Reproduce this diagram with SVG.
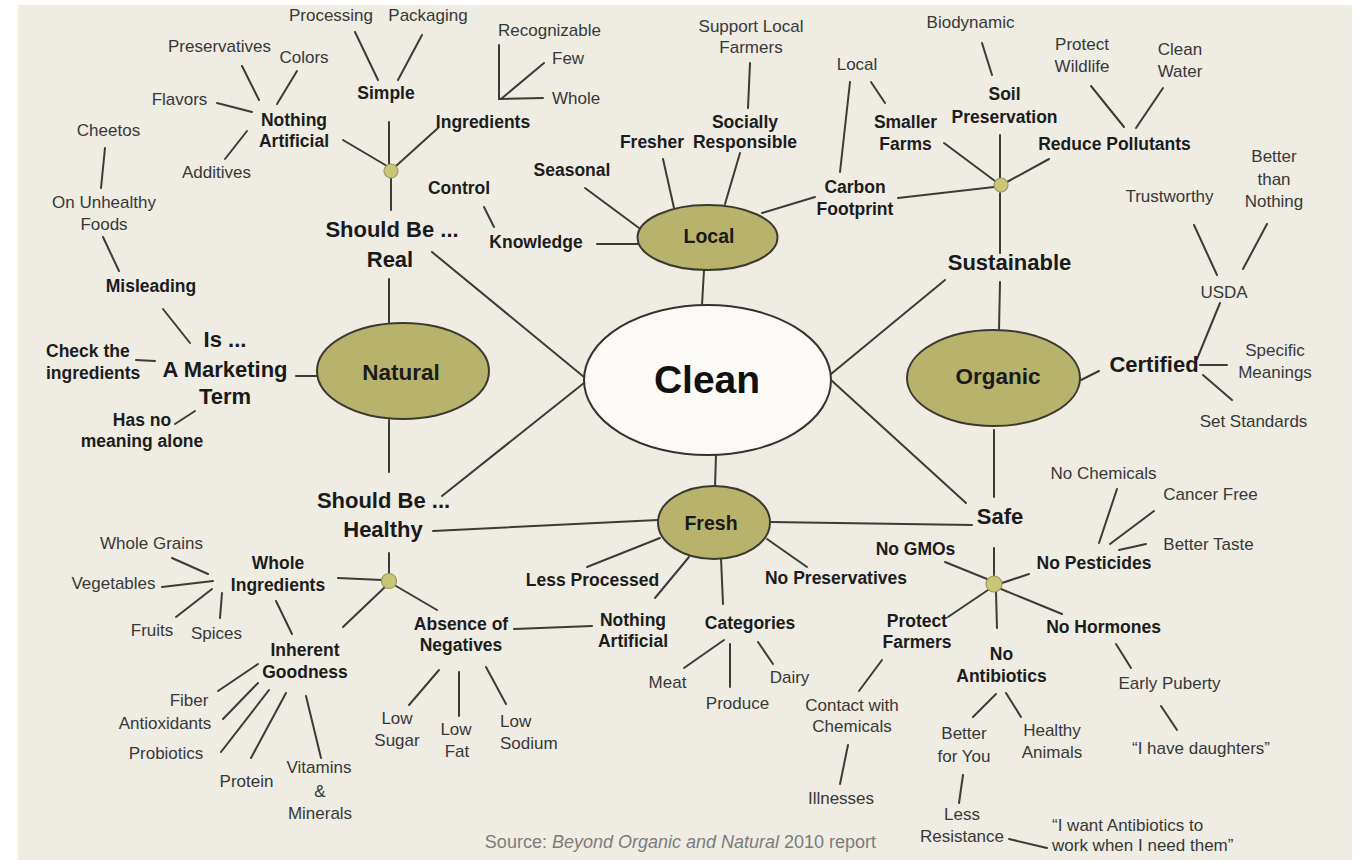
<svg xmlns="http://www.w3.org/2000/svg" width="1356" height="860" viewBox="0 0 1356 860">
<style>
text{font-family:"Liberation Sans",Arial,sans-serif;text-anchor:middle}
.r{font-size:17px;fill:#383838}
.b{font-size:17.5px;font-weight:bold;fill:#1c1c1c}
.L{font-size:22px;font-weight:bold;fill:#1a1a1a}
.E{font-size:22.5px;font-weight:bold;fill:#1a1a1a}
.e{font-size:19.5px;font-weight:bold;fill:#1a1a1a}
.st{text-anchor:start}
.olive{fill:#b7b36d;stroke:#3a3a2e;stroke-width:2}
.hub{fill:#c9c777;stroke:#9c9a5c;stroke-width:1.2}
#connectors line,#connectors polyline{stroke:#3b3b3b;stroke-width:2;fill:none;stroke-linecap:round}
</style>
<rect x="0" y="0" width="1356" height="860" fill="#ffffff"/>
<rect x="18" y="5" width="1334" height="855" fill="#eeece3"/>

<g id="connectors">
<line x1="432" y1="252" x2="584" y2="377"/>
<line x1="442" y1="496" x2="584" y2="383"/>
<line x1="704" y1="270" x2="702" y2="305"/>
<line x1="716" y1="455" x2="715" y2="487"/>
<line x1="945" y1="280" x2="831" y2="374"/>
<line x1="831" y1="380" x2="966" y2="503"/>
<line x1="355" y1="32" x2="378" y2="80"/>
<line x1="422" y1="35" x2="398" y2="80"/>
<line x1="242" y1="66" x2="259" y2="100"/>
<line x1="297" y1="71" x2="277" y2="104"/>
<line x1="217" y1="103" x2="252" y2="112"/>
<line x1="247" y1="131" x2="225" y2="159"/>
<line x1="343" y1="140" x2="387" y2="166"/>
<line x1="389" y1="122" x2="389" y2="167"/>
<line x1="438" y1="128" x2="396" y2="166"/>
<line x1="391" y1="177" x2="391" y2="210"/>
<polyline points="499,45 499,99 543,98"/>
<line x1="501" y1="99" x2="544" y2="63"/>
<line x1="389" y1="279" x2="389" y2="323"/>
<line x1="105" y1="148" x2="101" y2="188"/>
<line x1="103" y1="237" x2="119" y2="271"/>
<line x1="163" y1="309" x2="190" y2="343"/>
<line x1="136" y1="360" x2="155" y2="361"/>
<line x1="296" y1="376" x2="317" y2="376"/>
<line x1="175" y1="424" x2="195" y2="411"/>
<line x1="389" y1="420" x2="389" y2="472"/>
<line x1="750" y1="63" x2="748" y2="108"/>
<line x1="484" y1="207" x2="494" y2="227"/>
<line x1="597" y1="244" x2="638" y2="244"/>
<line x1="585" y1="188" x2="639" y2="228"/>
<line x1="663" y1="159" x2="674" y2="208"/>
<line x1="740" y1="153" x2="725" y2="204"/>
<line x1="815" y1="197" x2="762" y2="213"/>
<line x1="850" y1="82" x2="840" y2="172"/>
<line x1="871" y1="82" x2="885" y2="103"/>
<line x1="898" y1="198" x2="994" y2="187"/>
<line x1="982" y1="43" x2="992" y2="75"/>
<line x1="944" y1="143" x2="995" y2="181"/>
<line x1="1000" y1="135" x2="1000" y2="178"/>
<line x1="1049" y1="159" x2="1007" y2="182"/>
<line x1="1091" y1="86" x2="1124" y2="127"/>
<line x1="1163" y1="88" x2="1136" y2="128"/>
<line x1="1000" y1="193" x2="1000" y2="253"/>
<line x1="1000" y1="282" x2="999" y2="330"/>
<line x1="1194" y1="225" x2="1217" y2="275"/>
<line x1="1267" y1="224" x2="1243" y2="269"/>
<line x1="1220" y1="303" x2="1197" y2="359"/>
<line x1="1081" y1="380" x2="1099" y2="371"/>
<line x1="1200" y1="365" x2="1227" y2="365"/>
<line x1="1203" y1="375" x2="1232" y2="400"/>
<line x1="994" y1="430" x2="994" y2="497"/>
<line x1="770" y1="522" x2="972" y2="525"/>
<line x1="1117" y1="489" x2="1099" y2="543"/>
<line x1="1154" y1="511" x2="1110" y2="544"/>
<line x1="1146" y1="544" x2="1119" y2="550"/>
<line x1="994" y1="548" x2="994" y2="577"/>
<line x1="945" y1="562" x2="987" y2="579"/>
<line x1="1029" y1="574" x2="1002" y2="583"/>
<line x1="988" y1="590" x2="948" y2="617"/>
<line x1="996" y1="592" x2="997" y2="628"/>
<line x1="1001" y1="589" x2="1062" y2="614"/>
<line x1="996" y1="694" x2="973" y2="717"/>
<line x1="1006" y1="693" x2="1021" y2="717"/>
<line x1="963" y1="775" x2="959" y2="803"/>
<line x1="1009" y1="839" x2="1047" y2="848"/>
<line x1="1116" y1="644" x2="1131" y2="668"/>
<line x1="1161" y1="706" x2="1177" y2="730"/>
<line x1="882" y1="660" x2="859" y2="691"/>
<line x1="848" y1="745" x2="840" y2="784"/>
<line x1="660" y1="538" x2="587" y2="567"/>
<line x1="689" y1="557" x2="655" y2="598"/>
<line x1="721" y1="558" x2="723" y2="604"/>
<line x1="767" y1="539" x2="807" y2="567"/>
<line x1="592" y1="626" x2="514" y2="629"/>
<line x1="724" y1="640" x2="684" y2="668"/>
<line x1="730" y1="644" x2="730" y2="687"/>
<line x1="758" y1="642" x2="773" y2="664"/>
<line x1="433" y1="531" x2="658" y2="520"/>
<line x1="389" y1="553" x2="389" y2="574"/>
<line x1="338" y1="578" x2="382" y2="580"/>
<line x1="385" y1="587" x2="343" y2="627"/>
<line x1="396" y1="586" x2="437" y2="610"/>
<line x1="172" y1="558" x2="208" y2="574"/>
<line x1="162" y1="587" x2="213" y2="581"/>
<line x1="176" y1="617" x2="212" y2="589"/>
<line x1="222" y1="593" x2="220" y2="618"/>
<line x1="276" y1="601" x2="292" y2="634"/>
<line x1="258" y1="664" x2="218" y2="691"/>
<line x1="258" y1="683" x2="223" y2="719"/>
<line x1="269" y1="690" x2="221" y2="752"/>
<line x1="286" y1="693" x2="251" y2="758"/>
<line x1="306" y1="696" x2="321" y2="758"/>
<line x1="439" y1="670" x2="409" y2="705"/>
<line x1="459" y1="672" x2="459" y2="716"/>
<line x1="486" y1="667" x2="506" y2="704"/>
</g>

<g id="clean"><ellipse cx="707.5" cy="380" rx="123.5" ry="75" fill="#fbfaf6" stroke="#333" stroke-width="2"/><text x="707" y="393" style="font-size:39px;font-weight:bold;fill:#111">Clean</text></g>
<g id="local"><ellipse class="olive" cx="707.5" cy="237.5" rx="70" ry="32.5"/><text class="e" x="709" y="243">Local</text></g>
<g id="natural"><ellipse class="olive" cx="403" cy="371" rx="86" ry="48"/><text class="E" x="401" y="380">Natural</text></g>
<g id="organic"><ellipse class="olive" cx="993.5" cy="378" rx="86.5" ry="48"/><text class="E" x="998" y="384">Organic</text></g>
<g id="fresh"><ellipse class="olive" cx="714" cy="522.5" rx="56" ry="36.5"/><text class="e" x="711" y="530">Fresh</text></g>

<g id="hub-real"><circle class="hub" cx="391" cy="171" r="7"/></g>
<g id="hub-sustainable"><circle class="hub" cx="1001" cy="185" r="7"/></g>
<g id="hub-healthy"><circle class="hub" cx="389" cy="581" r="7.5"/></g>
<g id="hub-safe"><circle class="hub" cx="994" cy="584" r="8"/></g>

<g id="real"><text class="L" x="392" y="237">Should Be ...</text><text class="L" x="390" y="267">Real</text></g>
<g id="simple"><text class="b" x="386" y="99">Simple</text></g>
<g id="processing"><text class="r" x="331" y="21">Processing</text></g>
<g id="packaging"><text class="r" x="428" y="21">Packaging</text></g>
<g id="nothing-artificial-1"><text class="b" x="294" y="126">Nothing</text><text class="b" x="294" y="147">Artificial</text></g>
<g id="preservatives"><text class="r" x="219.5" y="52">Preservatives</text></g>
<g id="colors"><text class="r" x="304" y="63">Colors</text></g>
<g id="flavors"><text class="r" x="179.5" y="105">Flavors</text></g>
<g id="additives"><text class="r" x="216.5" y="178">Additives</text></g>
<g id="ingredients"><text class="b" x="483" y="128">Ingredients</text></g>
<g id="recognizable"><text class="r" x="549.5" y="36">Recognizable</text></g>
<g id="few"><text class="r st" x="552" y="64">Few</text></g>
<g id="whole"><text class="r st" x="552" y="104">Whole</text></g>

<g id="cheetos"><text class="r" x="108.5" y="136">Cheetos</text></g>
<g id="on-unhealthy"><text class="r" x="104" y="208">On Unhealthy</text><text class="r" x="104" y="230">Foods</text></g>
<g id="misleading"><text class="b" x="151" y="292">Misleading</text></g>
<g id="marketing"><text class="L" x="225" y="347">Is ...</text><text class="L" x="225" y="377">A Marketing</text><text class="L" x="225" y="404">Term</text></g>
<g id="check"><text class="b st" x="46" y="357">Check the</text><text class="b st" x="46" y="379">ingredients</text></g>
<g id="no-meaning"><text class="b" x="142" y="426">Has no</text><text class="b" x="142" y="447">meaning alone</text></g>

<g id="support-local"><text class="r" x="751" y="32">Support Local</text><text class="r" x="751" y="53">Farmers</text></g>
<g id="socially"><text class="b" x="745" y="128">Socially</text><text class="b" x="745" y="148">Responsible</text></g>
<g id="fresher"><text class="b" x="652" y="148">Fresher</text></g>
<g id="seasonal"><text class="b" x="572" y="176">Seasonal</text></g>
<g id="control"><text class="b" x="459" y="194">Control</text></g>
<g id="knowledge"><text class="b" x="536" y="248">Knowledge</text></g>
<g id="carbon"><text class="b" x="855" y="193">Carbon</text><text class="b" x="855" y="215">Footprint</text></g>
<g id="local-small"><text class="r" x="857" y="70">Local</text></g>
<g id="smaller-farms"><text class="b" x="905.5" y="128">Smaller</text><text class="b" x="905.5" y="150">Farms</text></g>

<g id="biodynamic"><text class="r" x="970.5" y="28">Biodynamic</text></g>
<g id="soil"><text class="b" x="1004.5" y="100">Soil</text><text class="b" x="1004.5" y="123">Preservation</text></g>
<g id="reduce-pollutants"><text class="b" x="1114.5" y="150">Reduce Pollutants</text></g>
<g id="protect-wildlife"><text class="r" x="1082" y="50">Protect</text><text class="r" x="1082" y="72">Wildlife</text></g>
<g id="clean-water"><text class="r" x="1180" y="55">Clean</text><text class="r" x="1180" y="77">Water</text></g>
<g id="sustainable"><text class="L" x="1009.5" y="270">Sustainable</text></g>
<g id="trustworthy"><text class="r" x="1169.5" y="202">Trustworthy</text></g>
<g id="better-than"><text class="r" x="1274" y="162">Better</text><text class="r" x="1274" y="185">than</text><text class="r" x="1274" y="207">Nothing</text></g>
<g id="usda"><text class="r" x="1224" y="298">USDA</text></g>
<g id="certified"><text class="L" x="1154" y="372">Certified</text></g>
<g id="specific"><text class="r" x="1275" y="356">Specific</text><text class="r" x="1275" y="378">Meanings</text></g>
<g id="set-standards"><text class="r" x="1253.5" y="427">Set Standards</text></g>

<g id="safe"><text class="L" x="1000" y="524">Safe</text></g>
<g id="no-chemicals"><text class="r" x="1103.5" y="479">No Chemicals</text></g>
<g id="cancer-free"><text class="r" x="1210.5" y="500">Cancer Free</text></g>
<g id="better-taste"><text class="r" x="1208.5" y="550">Better Taste</text></g>
<g id="no-pesticides"><text class="b" x="1094" y="569">No Pesticides</text></g>
<g id="no-gmos"><text class="b" x="915.5" y="555">No GMOs</text></g>
<g id="protect-farmers"><text class="b" x="917" y="627">Protect</text><text class="b" x="917" y="648">Farmers</text></g>
<g id="no-hormones"><text class="b" x="1103.5" y="633">No Hormones</text></g>
<g id="no-antibiotics"><text class="b" x="1001.5" y="660">No</text><text class="b" x="1001.5" y="682">Antibiotics</text></g>
<g id="better-for-you"><text class="r" x="964" y="739">Better</text><text class="r" x="964" y="762">for You</text></g>
<g id="healthy-animals"><text class="r" x="1052" y="736">Healthy</text><text class="r" x="1052" y="758">Animals</text></g>
<g id="less-resistance"><text class="r" x="962" y="820">Less</text><text class="r" x="962" y="842">Resistance</text></g>
<g id="quote-antibiotics"><text class="r st" x="1052" y="831">“I want Antibiotics to</text><text class="r st" x="1052" y="851">work when I need them”</text></g>
<g id="early-puberty"><text class="r" x="1169.5" y="689">Early Puberty</text></g>
<g id="quote-daughters"><text class="r" x="1201" y="754">“I have daughters”</text></g>
<g id="contact"><text class="r" x="852" y="711">Contact with</text><text class="r" x="852" y="732">Chemicals</text></g>
<g id="illnesses"><text class="r" x="841" y="804">Illnesses</text></g>

<g id="less-processed"><text class="b" x="592.5" y="586">Less Processed</text></g>
<g id="no-preservatives"><text class="b" x="836" y="584">No Preservatives</text></g>
<g id="nothing-artificial-2"><text class="b" x="633" y="626">Nothing</text><text class="b" x="633" y="647">Artificial</text></g>
<g id="categories"><text class="b" x="750" y="629">Categories</text></g>
<g id="meat"><text class="r" x="667.5" y="688">Meat</text></g>
<g id="produce"><text class="r" x="737.5" y="709">Produce</text></g>
<g id="dairy"><text class="r" x="789.5" y="683">Dairy</text></g>

<g id="healthy"><text class="L" x="383.5" y="508">Should Be ...</text><text class="L" x="383" y="537">Healthy</text></g>
<g id="whole-ingredients"><text class="b" x="278" y="569">Whole</text><text class="b" x="278" y="591">Ingredients</text></g>
<g id="whole-grains"><text class="r" x="151.5" y="549">Whole Grains</text></g>
<g id="vegetables"><text class="r" x="113.5" y="589">Vegetables</text></g>
<g id="fruits"><text class="r" x="152" y="636">Fruits</text></g>
<g id="spices"><text class="r" x="216.5" y="639">Spices</text></g>
<g id="inherent"><text class="b" x="305" y="656">Inherent</text><text class="b" x="305" y="678">Goodness</text></g>
<g id="fiber"><text class="r" x="189" y="706">Fiber</text></g>
<g id="antioxidants"><text class="r" x="165" y="729">Antioxidants</text></g>
<g id="probiotics"><text class="r" x="166" y="759">Probiotics</text></g>
<g id="protein"><text class="r" x="246.5" y="787">Protein</text></g>
<g id="vitamins"><text class="r" x="319" y="773">Vitamins</text><text class="r" x="320" y="797">&amp;</text><text class="r" x="320" y="819">Minerals</text></g>
<g id="absence"><text class="b" x="461" y="630">Absence of</text><text class="b" x="461" y="651">Negatives</text></g>
<g id="low-sugar"><text class="r" x="397" y="724">Low</text><text class="r" x="397" y="746">Sugar</text></g>
<g id="low-fat"><text class="r" x="456" y="735">Low</text><text class="r" x="457" y="757">Fat</text></g>
<g id="low-sodium"><text class="r st" x="500" y="727">Low</text><text class="r st" x="500" y="749">Sodium</text></g>

<g id="source"><text x="680.5" y="848" style="font-size:18px;fill:#7c7c7c">Source: <tspan font-style="italic">Beyond Organic and Natural</tspan> 2010 report</text></g>
</svg>
